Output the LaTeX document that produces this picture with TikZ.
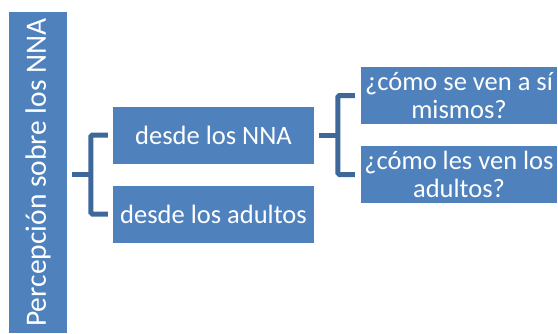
\documentclass[tikz,border=0pt]{standalone}
\usepackage{fontspec}
\setmainfont{Carlito}
\definecolor{boxblue}{RGB}{79,129,189}
\definecolor{braceblue}{RGB}{62,104,153}
\usetikzlibrary{calc}
\usetikzlibrary{positioning}

\begin{document}
\begin{tikzpicture}[x=1pt,y=-1pt,
    topicbox/.style={fill=boxblue,draw=none,text=white,inner sep=0pt,
      font=\fontsize{26.5}{28}\selectfont,align=center},
    bracket/.style={draw=braceblue,line width=5pt,rounded corners=1.5pt}]
  \useasboundingbox (0,0) rectangle (558,333);

  \node [topicbox, rotate=90, minimum width=321pt, minimum height=58pt,
    font=\fontsize{29.5}{31}\selectfont] at (38,172.5) (root) {Percepción sobre los NNA};

  \begin{scope}[every node/.style={topicbox,minimum width=201pt,minimum height=57pt}]
    \node (nna) at (213.5,135) {desde los NNA};
    \node (adultos) at (213.5,214) {desde los adultos};
  \end{scope}

  \begin{scope}[every node/.style={topicbox,minimum width=196pt,minimum height=57pt}]
    \node (mismos) at (459,95.5) {¿cómo se ven a sí\\mismos?};
    \node (lesven) at (459,174.5) {¿cómo les ven los\\adultos?};
  \end{scope}

  % brackets
  \coordinate (b1) at ($(nna.west)!0.5!(adultos.west) + (-22,0)$);
  \draw [bracket] ([xshift=-5pt]nna.west) -| (b1) |- ([xshift=-5pt]adultos.west);
  \draw [bracket] ([xshift=5pt]root.south |- b1) -- (b1);

  \coordinate (b2) at ($(mismos.west)!0.5!(lesven.west) + (-23,0)$);
  \draw [bracket] ([xshift=-6pt]mismos.west) -| (b2) |- ([xshift=-6pt]lesven.west);
  \draw [bracket] ([xshift=5pt]nna.east) -- (nna.east -| b2);
\end{tikzpicture}
\end{document}
